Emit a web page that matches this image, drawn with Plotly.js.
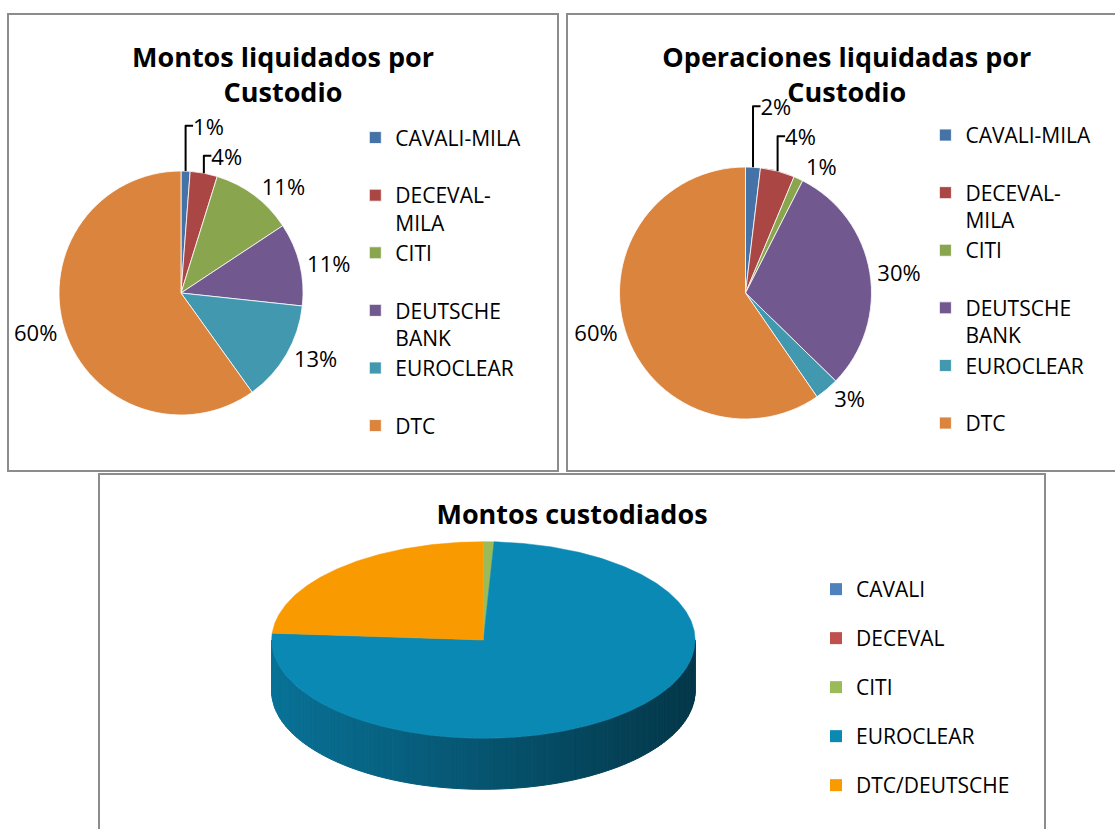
<!DOCTYPE html>
<html>
<head>
<meta charset="utf-8">
<script src="https://cdn.plot.ly/plotly-3.0.1.min.js"></script>
<style>
html,body{margin:0;padding:0;width:1115px;height:829px;overflow:hidden;background:#fff;}
.plot{position:absolute;}
.frame{position:absolute;box-sizing:border-box;border:2px solid #8c8c8c;pointer-events:none;}
</style>
</head>
<body>
<div id="c1" class="plot" style="left:7px;top:13px;width:552px;height:459px"></div>
<div class="frame" style="left:7px;top:13px;width:552px;height:459px"></div>
<div id="c2" class="plot" style="left:566px;top:13px;width:600px;height:459px"></div>
<div class="frame" style="left:566px;top:13px;width:600px;height:459px"></div>
<div id="c3" class="plot" style="left:98px;top:473px;width:948px;height:400px"></div>
<div class="frame" style="left:98px;top:473px;width:948px;height:400px"></div>
<script>
// ---------------- DATA ----------------
const liqCategories = ['CAVALI-MILA', 'DECEVAL-<br>MILA', 'CITI', 'DEUTSCHE<br>BANK', 'EUROCLEAR', 'DTC'];
const montosLiquidados = [1.2, 3.6, 10.9, 11.0, 13.4, 59.9];
const operacionesLiquidadas = [1.9, 4.4, 1.2, 29.8, 3.1, 59.6];
const custCategories = ['CAVALI', 'DECEVAL', 'CITI', 'EUROCLEAR', 'DTC/DEUTSCHE'];
const montosCustodiados = [0, 0, 0.8, 75.3, 23.9];

const titles = ['Montos liquidados por<br>Custodio', 'Operaciones liquidadas por<br>Custodio', 'Montos custodiados'];

// ---------------- STYLE ----------------
const liqColors = ['#4572A7', '#AA4643', '#89A54E', '#71588F', '#4198AF', '#DB843D'];
const custColors = ['#4F81BD', '#C0504D', '#9BBB59', '#0A89B5', '#F99A00'];
const FONT = 'Open Sans, Noto Sans, sans-serif';
const cfg = {displayModeBar: false, staticPlot: true};

// pad single-line legend entries (except the last) to two lines so all items occupy the same slot
const legendLabels = liqCategories.map((s, i) =>
  (s.includes('<br>') || i === liqCategories.length - 1) ? s : s + '<br>\u00a0');

function pieFigure(div, values, title, titleX, W, H, cx, cy, r, legX, legY) {
  const trace = {
    type: 'pie',
    labels: legendLabels,
    values: values,
    sort: false,
    direction: 'clockwise',
    rotation: 0,
    marker: {colors: liqColors, line: {color: '#ffffff', width: 0.8}},
    textposition: 'outside',
    texttemplate: '%{percent:.0%}',
    textfont: {family: FONT, size: 22, color: '#000'},
    outsidetextfont: {family: FONT, size: 22, color: '#000'},
    hoverinfo: 'skip',
    domain: {x: [(cx - r) / W, (cx + r) / W], y: [(H - cy - r) / H, (H - cy + r) / H]}
  };
  const layout = {
    width: W, height: H,
    margin: {l: 0, r: 0, t: 0, b: 0},
    paper_bgcolor: 'rgba(0,0,0,0)',
    plot_bgcolor: 'rgba(0,0,0,0)',
    title: {text: title, x: titleX, xanchor: 'center', xref: 'container', y: 1 - 54 / H, yanchor: 'top', yref: 'container',
            font: {family: FONT, size: 27, color: '#000', weight: 700}},
    showlegend: true,
    legend: {x: legX, xanchor: 'left', y: legY, yanchor: 'top', valign: 'top',
             font: {family: FONT, size: 21, color: '#000'}, bgcolor: 'rgba(0,0,0,0)'}
  };
  Plotly.newPlot(div, [trace], layout, cfg);
}

pieFigure('c1', montosLiquidados, titles[0], 0.5, 552, 459, 174, 280, 122, 0.631, 0.7725);
pieFigure('c2', operacionesLiquidadas, titles[1], 0.468, 600, 459, 179.5, 280, 126, 0.599, 0.778);

// ---------------- 3D PIE (drawn from the values) ----------------
(function () {
  const W = 948, H = 400;
  const G = {cx: 385.4, cy: 167, rx: 211.7, ry: 98.3, depth: 51};
  const total = montosCustodiados.reduce((a, b) => a + b, 0);
  let cum = 0;
  const slices = montosCustodiados.map((v, i) => {
    const a = cum / total * 360; cum += v;
    return {a: a, b: cum / total * 360, i: i};
  });
  function pt(phi, dy) {
    const th = (90 - phi) * Math.PI / 180;
    return [G.cx + G.rx * Math.cos(th), G.cy - G.ry * Math.sin(th) + (dy || 0)];
  }
  function hexToRgb(h) {
    return [parseInt(h.slice(1, 3), 16), parseInt(h.slice(3, 5), 16), parseInt(h.slice(5, 7), 16)];
  }
  function sliceAt(phi) {
    const p = ((phi % 360) + 360) % 360;
    for (const s of slices) if (s.b > s.a && p >= s.a && p < s.b) return s;
    return slices[slices.length - 1];
  }
  const traces = [];
  // side wall (front half: phi 90 -> 270)
  const N = 120;
  for (let k = 0; k < N; k++) {
    const p1 = 90 + 180 * k / N, p2 = 90 + 180 * (k + 1) / N, pm = (p1 + p2) / 2;
    const s = sliceAt(pm);
    const th = (90 - pm) * Math.PI / 180;
    const f = 0.615 - 0.215 * Math.cos(th);
    const rgb = hexToRgb(custColors[s.i]).map(c => Math.round(c * f));
    const col = 'rgb(' + rgb.join(',') + ')';
    const a = pt(p1), b = pt(p2);
    traces.push({
      type: 'scatter', mode: 'lines', fill: 'toself', fillcolor: col,
      line: {color: col, width: 1},
      x: [a[0], b[0], b[0], a[0], a[0]],
      y: [a[1], b[1], b[1] + G.depth, a[1] + G.depth, a[1]],
      showlegend: false, hoverinfo: 'skip'
    });
  }
  // top faces
  slices.forEach(s => {
    if (s.b <= s.a) return;
    const xs = [G.cx], ys = [G.cy];
    const steps = Math.max(2, Math.ceil((s.b - s.a) / 0.5));
    for (let k = 0; k <= steps; k++) {
      const q = pt(s.a + (s.b - s.a) * k / steps);
      xs.push(q[0]); ys.push(q[1]);
    }
    xs.push(G.cx); ys.push(G.cy);
    traces.push({
      type: 'scatter', mode: 'lines', fill: 'toself', fillcolor: custColors[s.i],
      line: {color: custColors[s.i], width: 0.5},
      x: xs, y: ys, showlegend: false, hoverinfo: 'skip'
    });
  });
  // legend entries
  custCategories.forEach((name, i) => {
    traces.push({
      type: 'scatter', mode: 'markers', x: [null], y: [null], name: name,
      legendgroup: 'g' + i,
      marker: {symbol: 'square', size: 12, color: custColors[i]},
      showlegend: true, hoverinfo: 'skip'
    });
  });
  const layout = {
    width: W, height: H,
    margin: {l: 0, r: 0, t: 0, b: 0},
    paper_bgcolor: 'rgba(0,0,0,0)',
    plot_bgcolor: 'rgba(0,0,0,0)',
    xaxis: {range: [0, W], visible: false, fixedrange: true},
    yaxis: {range: [H, 0], visible: false, fixedrange: true},
    title: {text: titles[2], x: 0.5, xanchor: 'center', xref: 'container', y: 1 - 32 / H, yanchor: 'top', yref: 'container',
            font: {family: FONT, size: 27, color: '#000', weight: 700}},
    showlegend: true,
    legend: {x: 0.7574, xanchor: 'left', y: 0.76, yanchor: 'top', traceorder: 'grouped', tracegroupgap: 18.7,
             font: {family: FONT, size: 21, color: '#000'}, bgcolor: 'rgba(0,0,0,0)'}
  };
  Plotly.newPlot('c3', traces, layout, cfg);
})();
</script>
</body>
</html>
